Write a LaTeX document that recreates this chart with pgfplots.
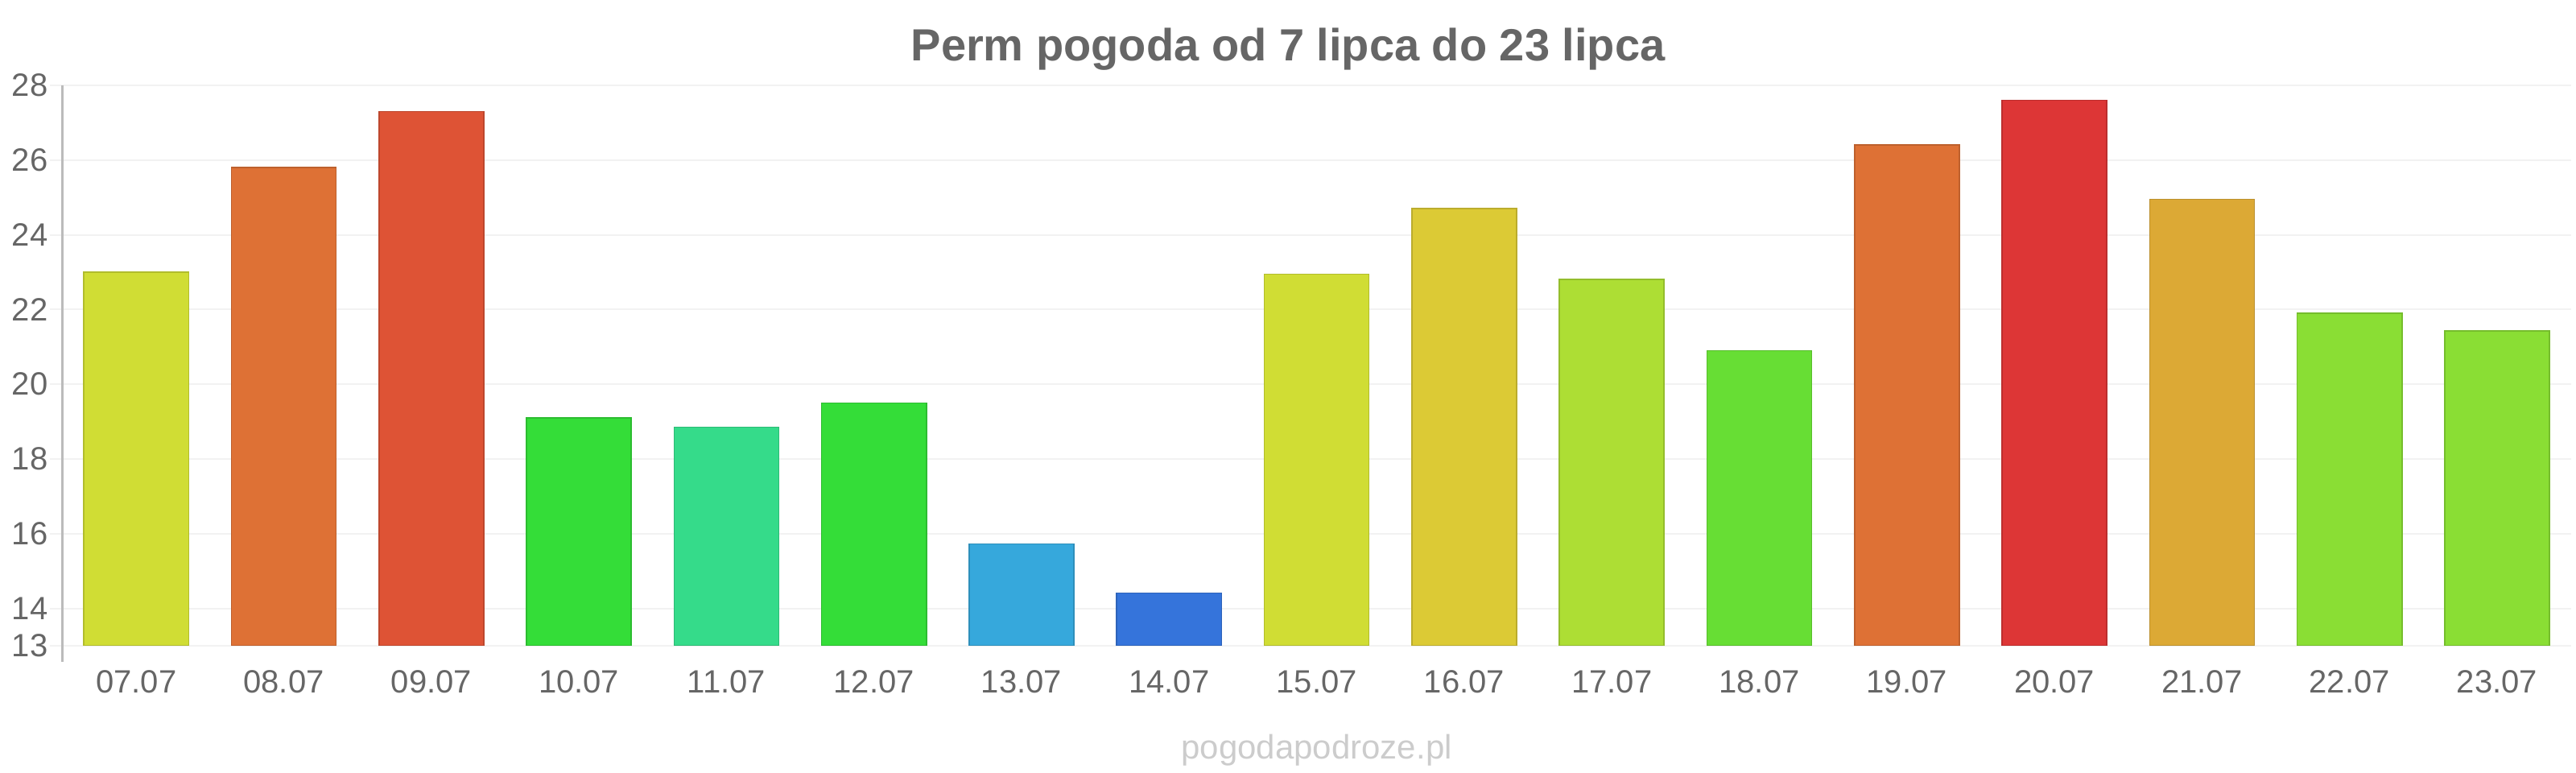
\documentclass[border=0pt]{standalone}
\usepackage{pgfplots}
\pgfplotsset{compat=1.18}
\usepackage{fontspec}
\setmainfont{Liberation Sans}
\definecolor{txt}{HTML}{666666}
\definecolor{wm}{HTML}{CCCCCC}
\definecolor{gridc}{HTML}{F2F2F2}
\definecolor{axc}{HTML}{BBBBBB}
\definecolor{cA}{HTML}{D0DD34}
\definecolor{cB}{HTML}{DE7135}
\definecolor{cC}{HTML}{DE5335}
\definecolor{cD}{HTML}{34DD38}
\definecolor{cE}{HTML}{35DB8A}
\definecolor{cF}{HTML}{36A8DC}
\definecolor{cG}{HTML}{3574DB}
\definecolor{cH}{HTML}{DCCA35}
\definecolor{cI}{HTML}{ADDE34}
\definecolor{cJ}{HTML}{67DE34}
\definecolor{cK}{HTML}{DD3636}
\definecolor{cL}{HTML}{DCA935}
\definecolor{cM}{HTML}{8ADE34}
\begin{document}
\begin{tikzpicture}
\useasboundingbox (0,0) rectangle (800pt,240pt);
\node[font=\fontsize{14}{16}\selectfont\bfseries, text=txt, anchor=base] at (400pt,221pt) {Perm pogoda od 7 lipca do 23 lipca};
\begin{axis}[
  at={(19.4pt,39.5pt)}, anchor=south west,
  width=779pt, height=174pt, scale only axis,
  ybar, bar shift=0pt, bar width=0.71,
  xmin=-0.5, xmax=16.5, ymin=13, ymax=28,
  xtick={0,...,16},
  xticklabels={07.07,08.07,09.07,10.07,11.07,12.07,13.07,14.07,15.07,16.07,17.07,18.07,19.07,20.07,21.07,22.07,23.07},
  ytick={13,14,16,18,20,22,24,26,28},
  ymajorgrids, grid style={gridc, line width=0.5pt},
  axis line style={draw=none},
  x tick style={draw=none},
  y tick style={draw=gridc, line width=0.5pt},
  ytick pos=left, xtick pos=bottom,
  major tick length=4pt, tick align=outside,
  tick label style={font=\fontsize{10}{12}\selectfont, text=txt},
  yticklabel style={xshift=3pt},
  xticklabel style={yshift=0pt},
  /pgf/number format/assume math mode=true,
  clip=true,
]
\addplot[fill=cA, draw=cA!85!black] coordinates {(0,23.0)};
\addplot[fill=cB, draw=cB!85!black] coordinates {(1,25.8)};
\addplot[fill=cC, draw=cC!85!black] coordinates {(2,27.3)};
\addplot[fill=cD, draw=cD!85!black] coordinates {(3,19.1)};
\addplot[fill=cE, draw=cE!85!black] coordinates {(4,18.85)};
\addplot[fill=cD, draw=cD!85!black] coordinates {(5,19.5)};
\addplot[fill=cF, draw=cF!85!black] coordinates {(6,15.73)};
\addplot[fill=cG, draw=cG!85!black] coordinates {(7,14.41)};
\addplot[fill=cA, draw=cA!85!black] coordinates {(8,22.95)};
\addplot[fill=cH, draw=cH!85!black] coordinates {(9,24.7)};
\addplot[fill=cI, draw=cI!85!black] coordinates {(10,22.8)};
\addplot[fill=cJ, draw=cJ!85!black] coordinates {(11,20.9)};
\addplot[fill=cB, draw=cB!85!black] coordinates {(12,26.4)};
\addplot[fill=cK, draw=cK!85!black] coordinates {(13,27.6)};
\addplot[fill=cL, draw=cL!85!black] coordinates {(14,24.95)};
\addplot[fill=cM, draw=cM!85!black] coordinates {(15,21.9)};
\addplot[fill=cM, draw=cM!85!black] coordinates {(16,21.43)};
\end{axis}
\draw[axc, line width=0.8pt] (19.4pt,213.5pt) -- (19.4pt,34.5pt);
\node[font=\fontsize{10.5}{12}\selectfont, text=wm, anchor=base] at (408.9pt,4.3pt) {pogodapodroze.pl};
\end{tikzpicture}
\end{document}
